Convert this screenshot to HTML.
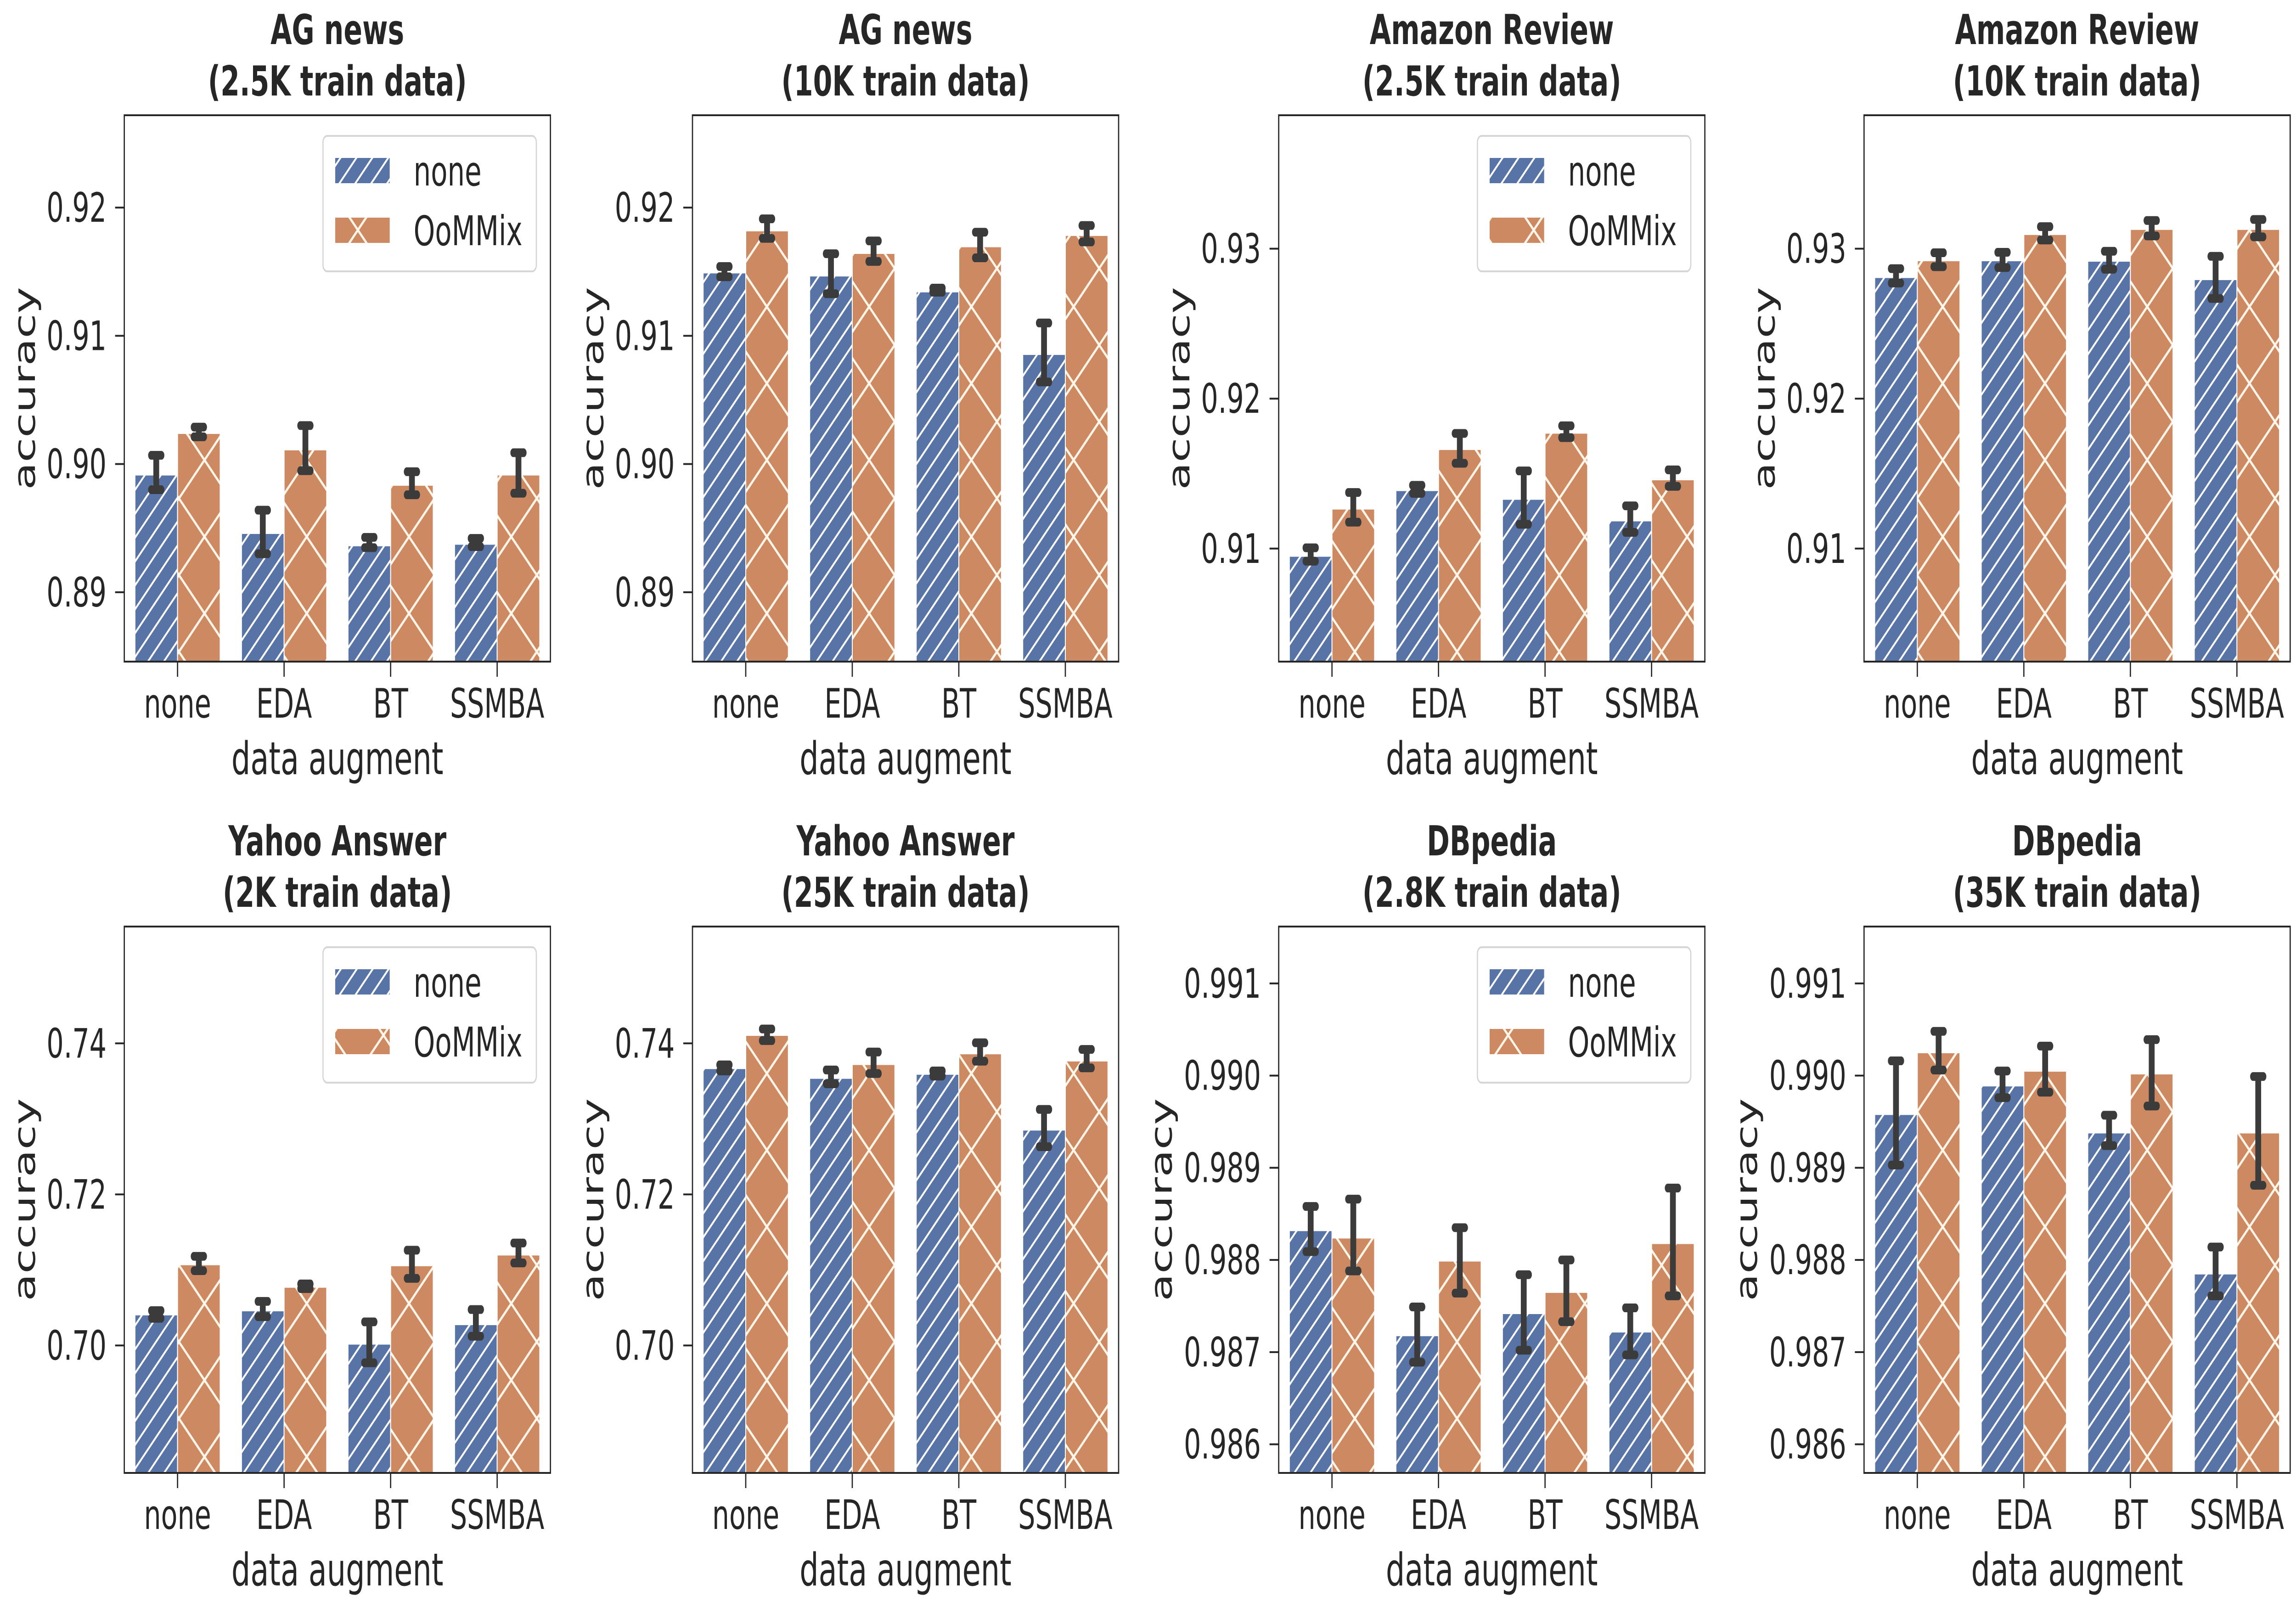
<!DOCTYPE html>
<html><head><meta charset="utf-8">
<style>
html,body{margin:0;padding:0;background:#fff;width:100vw;height:100vh;overflow:hidden;}
svg{display:block;width:100vw;height:100vh;}
text{font-family:"DejaVu Sans","Liberation Sans",sans-serif;fill:#262626;}
</style></head>
<body>
<svg id="fig" viewBox="0 0 7500 3500" preserveAspectRatio="none" xmlns="http://www.w3.org/2000/svg">
<defs>
<pattern id="hatchSlash" patternUnits="userSpaceOnUse" width="52" height="52">
<path d="M-13,13 L13,-13 M0,52 L52,0 M39,65 L65,39" stroke="#ffffff" stroke-width="5"/>
</pattern>
<pattern id="hatchX" patternUnits="userSpaceOnUse" width="167" height="167">
<path d="M0,0 L167,167 M0,167 L167,0" stroke="#fff6ea" stroke-width="6"/>
</pattern>
</defs>
</svg>
<script>
const categories = ["none","EDA","BT","SSMBA"];
const seriesNames = ["none","OoMMix"];

const agA_none = [0.89916,0.8946,0.89364,0.89376];
const agA_noneLo = [0.8980,0.8930,0.89348,0.89356];
const agA_noneHi = [0.90068,0.8964,0.89428,0.8942];
const agA_mix = [0.9024,0.90112,0.89836,0.89916];
const agA_mixLo = [0.90212,0.89948,0.8976,0.89772];
const agA_mixHi = [0.90288,0.9030,0.8994,0.90088];

const agB_none = [0.91492,0.91468,0.91344,0.90856];
const agB_noneLo = [0.9146,0.91328,0.9134,0.9064];
const agB_noneHi = [0.9154,0.9164,0.91372,0.911];
const agB_mix = [0.9182,0.91644,0.91696,0.91784];
const agB_mixLo = [0.9176,0.9158,0.91608,0.91732];
const agB_mixHi = [0.91912,0.9174,0.91808,0.9186];

const amA_none = [0.9095,0.91388,0.9133,0.91186];
const amA_noneLo = [0.90916,0.91368,0.91162,0.91108];
const amA_noneHi = [0.91005,0.91422,0.91518,0.91285];
const amA_mix = [0.91265,0.91662,0.91771,0.9146];
const amA_mixLo = [0.91176,0.91569,0.9174,0.91415];
const amA_mixHi = [0.91374,0.91768,0.91819,0.91525];

const amB_none = [0.92809,0.92921,0.92918,0.92795];
const amB_noneLo = [0.92771,0.92874,0.92863,0.92668];
const amB_noneHi = [0.92867,0.92976,0.92983,0.92949];
const amB_mix = [0.92921,0.93096,0.9313,0.9313];
const amB_mixLo = [0.9288,0.93058,0.93085,0.93079];
const amB_mixHi = [0.92973,0.93147,0.93188,0.93195];

const yaA_none = [0.70407,0.70461,0.7002,0.70278];
const yaA_noneLo = [0.70359,0.7038,0.6977,0.70122];
const yaA_noneHi = [0.70461,0.70583,0.70312,0.70475];
const yaA_mix = [0.71071,0.70773,0.71058,0.712];
const yaA_mixLo = [0.7099,0.70753,0.70888,0.71092];
const yaA_mixHi = [0.7118,0.70814,0.71261,0.71356];

const yaB_none = [0.73668,0.73539,0.73593,0.72854];
const yaB_noneLo = [0.73634,0.73464,0.73566,0.72631];
const yaB_noneHi = [0.73715,0.73647,0.73634,0.73125];
const yaB_mix = [0.74108,0.73722,0.73864,0.73769];
const yaB_mixLo = [0.74036,0.736,0.73763,0.73675];
const yaB_mixHi = [0.7419,0.73885,0.74007,0.73919];

const dbA_none = [0.98832,0.98718,0.98742,0.98722];
const dbA_noneLo = [0.98809,0.98689,0.98702,0.98697];
const dbA_noneHi = [0.98858,0.98749,0.98784,0.98748];
const dbA_mix = [0.98824,0.98799,0.98765,0.98818];
const dbA_mixLo = [0.98788,0.98764,0.98733,0.98761];
const dbA_mixHi = [0.98866,0.98835,0.988,0.98878];

const dbB_none = [0.98958,0.98989,0.98938,0.98785];
const dbB_noneLo = [0.98903,0.98976,0.98924,0.98761];
const dbB_noneHi = [0.99016,0.99005,0.98957,0.98814];
const dbB_mix = [0.99025,0.99005,0.99002,0.98938];
const dbB_mixLo = [0.99006,0.98982,0.98967,0.98881];
const dbB_mixHi = [0.99048,0.99032,0.99039,0.98999];

const titles1 = ["AG news","AG news","Amazon Review","Amazon Review","Yahoo Answer","Yahoo Answer","DBpedia","DBpedia"];
const titles2 = ["(2.5K train data)","(10K train data)","(2.5K train data)","(10K train data)","(2K train data)","(25K train data)","(2.8K train data)","(35K train data)"];
const yTicksAG = ["0.89","0.90","0.91","0.92"];
const yTicksAM = ["0.91","0.92","0.93"];
const yTicksYA = ["0.70","0.72","0.74"];
const yTicksDB = ["0.986","0.987","0.988","0.989","0.990","0.991"];

const panels = [
 {key:"ag-2.5k",none:agA_none,noneLo:agA_noneLo,noneHi:agA_noneHi,mix:agA_mix,mixLo:agA_mixLo,mixHi:agA_mixHi,ymin:0.88459,ymax:0.9272,ticks:yTicksAG,legend:true},
 {key:"ag-10k",none:agB_none,noneLo:agB_noneLo,noneHi:agB_noneHi,mix:agB_mix,mixLo:agB_mixLo,mixHi:agB_mixHi,ymin:0.88459,ymax:0.9272,ticks:yTicksAG,legend:false},
 {key:"amazon-2.5k",none:amA_none,noneLo:amA_noneLo,noneHi:amA_noneHi,mix:amA_mix,mixLo:amA_mixLo,mixHi:amA_mixHi,ymin:0.90246,ymax:0.9389,ticks:yTicksAM,legend:true},
 {key:"amazon-10k",none:amB_none,noneLo:amB_noneLo,noneHi:amB_noneHi,mix:amB_mix,mixLo:amB_mixLo,mixHi:amB_mixHi,ymin:0.90246,ymax:0.9389,ticks:yTicksAM,legend:false},
 {key:"yahoo-2k",none:yaA_none,noneLo:yaA_noneLo,noneHi:yaA_noneHi,mix:yaA_mix,mixLo:yaA_mixLo,mixHi:yaA_mixHi,ymin:0.68312,ymax:0.75546,ticks:yTicksYA,legend:true},
 {key:"yahoo-25k",none:yaB_none,noneLo:yaB_noneLo,noneHi:yaB_noneHi,mix:yaB_mix,mixLo:yaB_mixLo,mixHi:yaB_mixHi,ymin:0.68312,ymax:0.75546,ticks:yTicksYA,legend:false},
 {key:"dbpedia-2.8k",none:dbA_none,noneLo:dbA_noneLo,noneHi:dbA_noneHi,mix:dbA_mix,mixLo:dbA_mixLo,mixHi:dbA_mixHi,ymin:0.985689,ymax:0.991617,ticks:yTicksDB,legend:true},
 {key:"dbpedia-35k",none:dbB_none,noneLo:dbB_noneLo,noneHi:dbB_noneHi,mix:dbB_mix,mixLo:dbB_mixLo,mixHi:dbB_mixHi,ymin:0.985689,ymax:0.991617,ticks:yTicksDB,legend:false}
];

const NS = "http://www.w3.org/2000/svg";
const svg = document.getElementById("fig");
const colLeft = [406,2262,4177,6089];
const rowTop = [251,2018];
const AW = 1392, AH = 1190;
const BLUE = "#5874a6", ORANGE = "#cd8962", ERR = "#3b3b3b", SPINE = "#262626";

function mk(tag, attrs, parent){
  const e = document.createElementNS(NS, tag);
  for (const k in attrs) e.setAttribute(k, attrs[k]);
  (parent||svg).appendChild(e);
  return e;
}

panels.forEach((p, i) => {
  const L = colLeft[i % 4], T = rowTop[Math.floor(i / 4)];
  const g = mk("g", {});
  
  
  const yS = v => T + AH - (v - p.ymin) / (p.ymax - p.ymin) * AH;
  const xS = c => L + (c + 0.5) / 4 * AW;
  const cx = L + AW / 2;

  const t1 = mk("text", {x:cx, y:T-155, "text-anchor":"middle", "font-size":90, "font-weight":"bold"}, g);
  t1.textContent = titles1[i];
  
  
  const t2 = mk("text", {x:cx, y:T-43, "text-anchor":"middle", "font-size":90, "font-weight":"bold"}, g);
  t2.textContent = titles2[i];
  
  

  const clipId = "clip" + i;
  const cp = mk("clipPath", {id:clipId}, g);
  mk("rect", {x:L, y:T, width:AW, height:AH}, cp);
  const bars = mk("g", {"clip-path":"url(#" + clipId + ")"}, g);
  const bw = AW / 4 * 0.4;
  const base = T + AH + 10;

  categories.forEach((c, k) => {
    const xc = xS(k);
    [["none", p.none, p.noneLo, p.noneHi, BLUE, "hatchSlash", xc - bw],
     ["oommix", p.mix, p.mixLo, p.mixHi, ORANGE, "hatchX", xc]].forEach(s => {
      const yTop = yS(s[1][k]);
      const r = mk("rect", {x:s[6], y:yTop, width:bw, height:base - yTop, fill:s[4]}, bars);
      
      
      mk("rect", {x:s[6], y:yTop, width:bw, height:base - yTop, fill:"url(#" + s[5] + ")", stroke:"#ffffff", "stroke-width":3}, bars);
    });
  });
  categories.forEach((c, k) => {
    const xc = xS(k);
    [["none", p.noneLo, p.noneHi, xc - bw/2], ["oommix", p.mixLo, p.mixHi, xc + bw/2]].forEach(s => {
      const eg = mk("g", {stroke:ERR, "stroke-width":19, fill:"none"}, g);
      
      
      const y1 = yS(s[1][k]), y2 = yS(s[2][k]);
      mk("line", {x1:s[3], x2:s[3], y1:y1, y2:y2}, eg);
      mk("line", {x1:s[3]-17, x2:s[3]+17, y1:y1, y2:y1, "stroke-linecap":"round"}, eg);
      mk("line", {x1:s[3]-17, x2:s[3]+17, y1:y2, y2:y2, "stroke-linecap":"round"}, eg);
    });
  });

  const frame = mk("rect", {x:L, y:T, width:AW, height:AH, fill:"none", stroke:SPINE, "stroke-width":4}, g);
  
  

  p.ticks.forEach(tl => {
    const y = yS(parseFloat(tl));
    mk("line", {x1:L-30, x2:L, y1:y, y2:y, stroke:SPINE, "stroke-width":4}, g);
    const tt = mk("text", {x:L-58, y:y+31, "text-anchor":"end", "font-size":88}, g);
    tt.textContent = tl;
    
    
  });
  categories.forEach((c, k) => {
    const x = xS(k);
    mk("line", {x1:x, x2:x, y1:T+AH, y2:T+AH+33, stroke:SPINE, "stroke-width":4}, g);
    const tt = mk("text", {x:x, y:T+AH+122, "text-anchor":"middle", "font-size":88}, g);
    tt.textContent = c;
    
    
  });

  const xl = mk("text", {x:cx, y:T+AH+245, "text-anchor":"middle", "font-size":98}, g);
  xl.textContent = "data augment";
  
  
  const yOff = p.ticks[0].length > 4 ? 350 : 292;
  const yx = L - yOff, yy = T + AH / 2;
  const yl = mk("text", {x:yx, y:yy, "text-anchor":"middle", "font-size":98, transform:"rotate(-90 " + yx + " " + yy + ")"}, g);
  yl.textContent = "accuracy";
  
  

  if (p.legend) {
    const lg = mk("g", {}, g);
    
    
    const lx = L + 649, ly = T + 45;
    mk("rect", {x:lx, y:ly, width:697, height:295, rx:14, fill:"#ffffff", "fill-opacity":0.85, stroke:"#d6d6d6", "stroke-width":4}, lg);
    [[BLUE, "hatchSlash", seriesNames[0], 48, "none"], [ORANGE, "hatchX", seriesNames[1], 178, "oommix"]].forEach(s => {
      const e = mk("g", {}, lg);
      
      
      mk("rect", {x:lx+40, y:ly+s[3], width:178, height:55, fill:s[0]}, e);
      mk("rect", {x:lx+40, y:ly+s[3], width:178, height:55, fill:"url(#" + s[1] + ")"}, e);
      const tx = mk("text", {x:lx+296, y:ly+s[3]+60, "font-size":89}, e);
      tx.textContent = s[2];
    });
  }
});
</script>
</body></html>
